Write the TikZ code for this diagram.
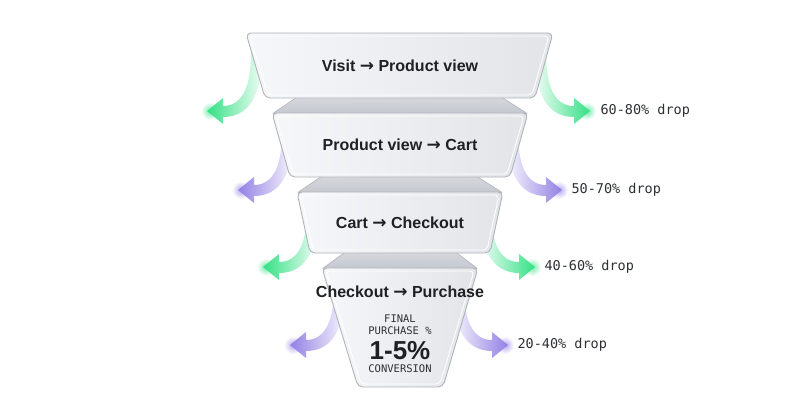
\documentclass[tikz,border=0pt]{standalone}
\usepackage{fontspec}
\setsansfont{Liberation Sans}
\setmonofont{DejaVu Sans Mono}
\newfontfamily\arrowfont{DejaVu Sans}
\usetikzlibrary{positioning}
\definecolor{boxedge}{RGB}{176,180,187}
\definecolor{boxlight}{RGB}{246,247,249}
\definecolor{boxdark}{RGB}{226,228,232}
\definecolor{necktop}{RGB}{216,218,223}
\definecolor{neckbottom}{RGB}{196,199,205}
\definecolor{inkdark}{RGB}{30,32,36}
\definecolor{inkmono}{RGB}{46,48,52}
\definecolor{dropgreen}{RGB}{52,224,132}
\definecolor{droppurple}{RGB}{146,128,228}
\newcommand{\stepto}{{\arrowfont\fontsize{17}{18}\selectfont →}}

\begin{document}
\begin{tikzpicture}[x=1pt,y=-1pt,
    stagebox/.style={draw=boxedge,line width=0.9pt,rounded corners=5pt,
      left color=boxlight,right color=boxdark},
    stageshine/.style={draw=white,line width=0.8pt,rounded corners=4pt},
    neckband/.style={draw=boxedge,line width=0.6pt,rounded corners=2pt,
      top color=necktop,bottom color=neckbottom},
    stagelabel/.style={text=inkdark,font=\sffamily\bfseries\fontsize{16}{18}\selectfont},
    droplabel/.style={anchor=west,text=inkmono,font=\ttfamily\fontsize{13.5}{15}\selectfont},
    finallabel/.style={text=inkmono,font=\ttfamily\fontsize{10.5}{12}\selectfont,inner sep=0pt},
    leftfade/.style={left color=#1,right color=#1!8!white},
    rightfade/.style={right color=#1,left color=#1!8!white},
    pics/droparrow/.style 2 args={code={
      \shade[inner color=#1!70!white,outer color=white] (3,0) circle (9);
      \shade[#2=#1]
        (0,0) -- (16,-13) -- (16,-5) .. controls (33,-5) and (44,-20) .. (44,-58)
        -- (55,-58) .. controls (55,-14) and (41,6) .. (16,6) -- (16,13) -- cycle;
    }}]
  \fill[white] (0,0) rectangle (800,420);
  \useasboundingbox (0,0) rectangle (800,420);

  % drop arrows, left and right of each stage
  \pic at (207,111) {droparrow={dropgreen}{leftfade}};
  \pic[xscale=-1] at (590,111) {droparrow={dropgreen}{rightfade}};
  \pic at (238,190) {droparrow={droppurple}{leftfade}};
  \pic[xscale=-1] at (562,190) {droparrow={droppurple}{rightfade}};
  \pic at (263,267) {droparrow={dropgreen}{leftfade}};
  \pic[xscale=-1] at (535,267) {droparrow={dropgreen}{rightfade}};
  \pic at (290,345) {droparrow={droppurple}{leftfade}};
  \pic[xscale=-1] at (508,345) {droparrow={droppurple}{rightfade}};

  % necks between the stages
  \path[neckband] (300,95) -- (498,95) -- (528,114) -- (272,114) -- cycle;
  \path[neckband] (325,174) -- (473,174) -- (503,193) -- (297,193) -- cycle;
  \path[neckband] (348,250) -- (453,250) -- (478,269) -- (322,269) -- cycle;

  % stages
  \path[stagebox] (246,33) -- (553,33) -- (535,98) -- (265,98) -- cycle;
  \draw[stageshine] (250,36) -- (549,36) -- (532,95) -- (268,95) -- cycle;
  \path[stagebox] (272,113) -- (528,113) -- (510,177) -- (290,177) -- cycle;
  \draw[stageshine] (276,116) -- (524,116) -- (507,174) -- (293,174) -- cycle;
  \path[stagebox] (297,192) -- (503,192) -- (490,253) -- (310,253) -- cycle;
  \draw[stageshine] (301,195) -- (499,195) -- (487,250) -- (313,250) -- cycle;
  \path[stagebox] (322,268) -- (478,268) -- (443,387) -- (358,387) -- cycle;
  \draw[stageshine] (326,271) -- (474,271) -- (440,384) -- (361,384) -- cycle;

  \node[stagelabel] (visit) at (400,66) {Visit \stepto{} Product view};
  \node[stagelabel] (view) at (400,145) {Product view \stepto{} Cart};
  \node[stagelabel] (cart) at (400,223) {Cart \stepto{} Checkout};
  \node[stagelabel] (checkout) at (400,292) {Checkout \stepto{} Purchase};

  \node[finallabel] (final) at (400,319) {FINAL};
  \node[finallabel,below=3pt of final] (purchase) {PURCHASE \%};
  \node[inner sep=0pt,text=inkdark,font=\sffamily\bfseries\fontsize{26}{28}\selectfont]
    (rate) at (400,351) {1-5\%};
  \node[finallabel] (conversion) at (400,369) {CONVERSION};

  \node[droplabel] (drop1) at (597,111) {60-80\% drop};
  \node[droplabel] (drop2) at (568,190) {50-70\% drop};
  \node[droplabel] (drop3) at (541,267) {40-60\% drop};
  \node[droplabel] (drop4) at (514,345) {20-40\% drop};
\end{tikzpicture}
\end{document}
